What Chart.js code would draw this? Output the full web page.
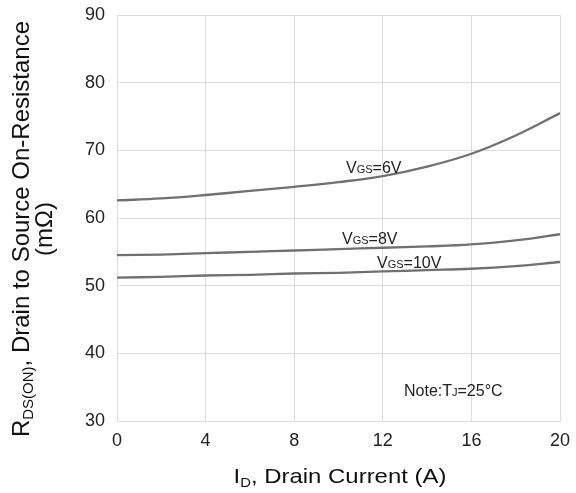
<!DOCTYPE html>
<html>
<head>
<meta charset="utf-8">
<script src="https://cdn.jsdelivr.net/npm/chart.js@4.4.1/dist/chart.umd.min.js"></script>
<style>
  html, body { margin: 0; padding: 0; background: #fff; }
  #wrap { width: 576px; height: 493px; }
</style>
</head>
<body>
<div id="wrap"><canvas id="rdsChart"></canvas></div>
<script>
// drain current (A) and on-resistance (mOhm)
const currents = [0, 2, 4, 6, 8, 10, 12, 14, 16, 18, 20];
const vgs6V  = [62.6, 62.9, 63.4, 64.0, 64.6, 65.3, 66.2, 67.6, 69.5, 72.2, 75.5];
const vgs8V  = [54.5, 54.6, 54.8, 55.0, 55.2, 55.4, 55.6, 55.8, 56.1, 56.7, 57.6];
const vgs10V = [51.2, 51.3, 51.5, 51.6, 51.8, 51.9, 52.1, 52.3, 52.5, 52.9, 53.5];
const xTicks = [0, 4, 8, 12, 16, 20];
const yTicks = [30, 40, 50, 60, 70, 80, 90];

const FONT = '"Liberation Sans", Arial, sans-serif';
const curveColor = '#707070';
const gridColor = '#dcdcdc';

function toPoints(ys) {
    return currents.map((x, i) => ({ x: x, y: ys[i] }));
}

// draws text with a small subscript / small caps part
function drawParts(ctx, parts, x, y, align) {
    let total = 0;
    parts.forEach(p => {
        ctx.font = p.size + 'px ' + FONT;
        total += ctx.measureText(p.text).width;
    });
    let cx = align === 'center' ? x - total / 2 : x;
    ctx.textAlign = 'left';
    ctx.textBaseline = 'alphabetic';
    parts.forEach(p => {
        ctx.font = p.size + 'px ' + FONT;
        ctx.fillText(p.text, cx, y + (p.dy || 0));
        cx += ctx.measureText(p.text).width;
    });
}

const labelsPlugin = {
    id: 'labelsPlugin',
    afterDraw(chart) {
        const ctx = chart.ctx;
        ctx.save();
        ctx.fillStyle = '#222';

        // curve labels
        drawParts(ctx, [{ text: 'V', size: 16 }, { text: 'GS', size: 11 }, { text: '=6V', size: 16 }], 346, 173, 'left');
        drawParts(ctx, [{ text: 'V', size: 16 }, { text: 'GS', size: 11 }, { text: '=8V', size: 16 }], 342, 244, 'left');
        drawParts(ctx, [{ text: 'V', size: 16 }, { text: 'GS', size: 11 }, { text: '=10V', size: 16 }], 377, 268, 'left');

        // note
        drawParts(ctx, [{ text: 'Note:T', size: 16 }, { text: 'J', size: 11 }, { text: '=25\u00b0C', size: 16 }], 404, 396, 'left');

        // x axis title (a bit wider than normal, like the source)
        ctx.fillStyle = '#111';
        ctx.save();
        ctx.translate(340, 483);
        ctx.scale(1.14, 1);
        drawParts(ctx, [{ text: 'I', size: 21 }, { text: 'D', size: 13, dy: 4 }, { text: ', Drain Current (A)', size: 21 }],
            0, 0, 'center');
        ctx.restore();

        // y axis title, rotated
        ctx.translate(29, 229);
        ctx.rotate(-Math.PI / 2);
        drawParts(ctx, [{ text: 'R', size: 24 }, { text: 'DS(ON)', size: 15, dy: 4 },
            { text: ', Drain to Source On-Resistance', size: 24 }], 0, 0, 'center');
        drawParts(ctx, [{ text: '(m\u03a9)', size: 24 }], 0, 23, 'center');
        ctx.restore();
    }
};

const lineStyle = {
    borderColor: curveColor,
    borderWidth: 2.3,
    pointRadius: 0,
    tension: 0.4,
    fill: false
};

new Chart(document.getElementById('rdsChart'), {
    type: 'line',
    data: {
        datasets: [
            Object.assign({ label: 'VGS=6V', data: toPoints(vgs6V) }, lineStyle),
            Object.assign({ label: 'VGS=8V', data: toPoints(vgs8V) }, lineStyle),
            Object.assign({ label: 'VGS=10V', data: toPoints(vgs10V) }, lineStyle)
        ]
    },
    options: {
        responsive: true,
        maintainAspectRatio: false,
        animation: false,
        layout: { padding: { left: 60, right: 16, top: 15, bottom: 22 } },
        plugins: {
            legend: { display: false },
            tooltip: { enabled: false }
        },
        scales: {
            x: {
                type: 'linear',
                min: 0,
                max: 20,
                afterBuildTicks: scale => { scale.ticks = xTicks.map(v => ({ value: v })); },
                afterFit: scale => {
                    scale.height = 50;
                    scale.paddingLeft = 0;
                    scale.paddingRight = 0;
                },
                ticks: { color: '#222', font: { family: FONT, size: 18 }, padding: 9 },
                grid: { color: gridColor, lineWidth: 1, drawTicks: false },
                border: { color: gridColor }
            },
            y: {
                min: 30,
                max: 90,
                afterBuildTicks: scale => { scale.ticks = yTicks.map(v => ({ value: v })); },
                afterFit: scale => {
                    scale.width = 57;
                    scale.paddingTop = 0;
                    scale.paddingBottom = 0;
                },
                ticks: { color: '#222', font: { family: FONT, size: 18 }, padding: 12 },
                grid: { color: gridColor, lineWidth: 1, drawTicks: false },
                border: { color: gridColor }
            }
        }
    },
    plugins: [labelsPlugin]
});
</script>
</body>
</html>
